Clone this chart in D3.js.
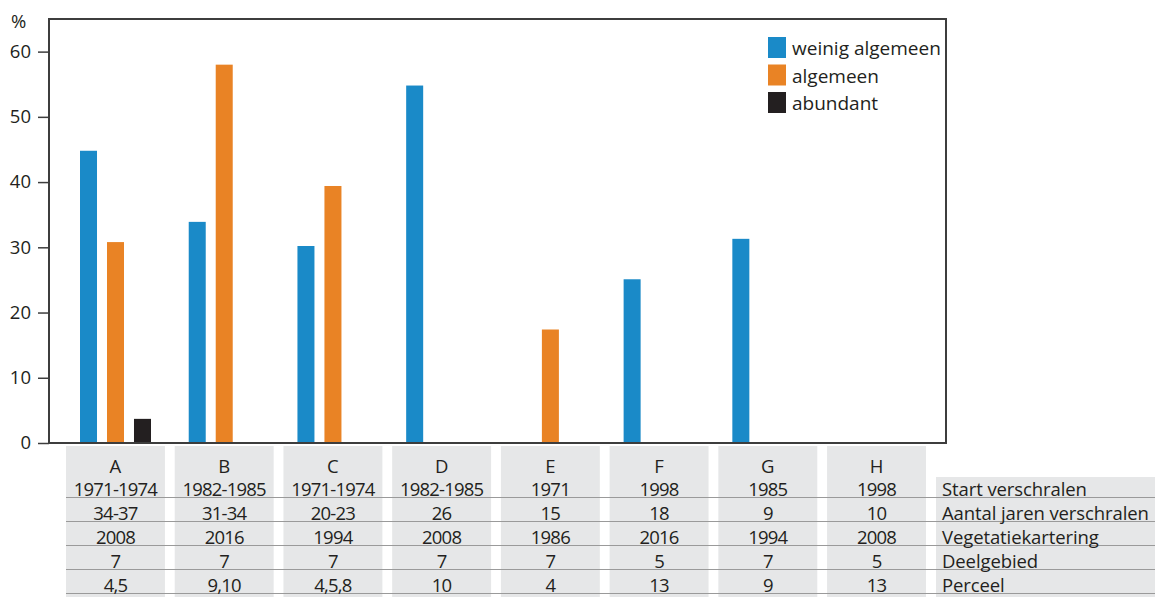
<!DOCTYPE html>
<html>
<head>
<meta charset="utf-8">
<script src="https://cdn.jsdelivr.net/npm/d3@7"></script>
<style>
  body { margin: 0; background: #fff; }
  text { font-family: "Open Sans", "DejaVu Sans", sans-serif; fill: #231f20; }
</style>
</head>
<body>
<div id="chart"></div>
<script>
// data
var groups = ["A", "B", "C", "D", "E", "F", "G", "H"];
var series = ["weinig algemeen", "algemeen", "abundant"];
var weinigAlgemeen = [44.8, 33.9, 30.2, 54.8, null, 25.1, 31.3, null];
var algemeen = [30.8, 58.0, 39.4, null, 17.4, null, null, null];
var abundant = [3.7, null, null, null, null, null, null, null];
var yTicks = [0, 10, 20, 30, 40, 50, 60];

var rowLabels = ["Start verschralen", "Aantal jaren verschralen", "Vegetatiekartering", "Deelgebied", "Perceel"];
var startVerschralen = ["1971-1974", "1982-1985", "1971-1974", "1982-1985", "1971", "1998", "1985", "1998"];
var aantalJaren = ["34-37", "31-34", "20-23", "26", "15", "18", "9", "10"];
var vegetatiekartering = ["2008", "2016", "1994", "2008", "1986", "2016", "1994", "2008"];
var deelgebied = ["7", "7", "7", "7", "7", "5", "7", "5"];
var perceel = ["4,5", "9,10", "4,5,8", "10", "4", "13", "9", "13"];

var colors = {"weinig algemeen": "#1a8ac8", "algemeen": "#e98325", "abundant": "#231f20"};

var svg = d3.select("#chart").append("svg")
    .attr("width", 1155)
    .attr("height", 601);

var plotLeft = 49, plotTop = 19, plotRight = 946, plotBottom = 443;

var y = d3.scaleLinear().domain([0, 65]).range([plotBottom, plotTop]);
var x0 = d3.scaleBand().domain(groups).range([66, 926]).paddingInner(0.09).paddingOuter(0);
var x1 = d3.scaleBand().domain(series).range([14, 85]).paddingInner(0.37).paddingOuter(0);

// table background boxes
svg.selectAll(".box").data(groups).enter().append("rect")
    .attr("class", "box")
    .attr("x", function(d) { return x0(d); })
    .attr("y", 446)
    .attr("width", x0.bandwidth())
    .attr("height", 151)
    .style("fill", "#e6e7e8");

svg.append("rect")
    .attr("x", 936).attr("y", 477)
    .attr("width", 219).attr("height", 120)
    .style("fill", "#e6e7e8");

// bars
var barData = [];
groups.forEach(function(g, i) {
    var vals = [weinigAlgemeen[i], algemeen[i], abundant[i]];
    series.forEach(function(s, j) {
        if (vals[j] != null) barData.push({group: g, serie: s, value: vals[j]});
    });
});

svg.selectAll(".bar").data(barData).enter().append("rect")
    .attr("class", "bar")
    .attr("x", function(d) { return x0(d.group) + x1(d.serie); })
    .attr("y", function(d) { return y(d.value); })
    .attr("width", x1.bandwidth())
    .attr("height", function(d) { return y(0) - y(d.value); })
    .style("fill", function(d) { return colors[d.serie]; });

// frame
svg.append("rect")
    .attr("x", plotLeft).attr("y", plotTop)
    .attr("width", plotRight - plotLeft).attr("height", plotBottom - plotTop)
    .style("fill", "none")
    .style("stroke", "#3d3d3d")
    .style("stroke-width", 2);

// y axis
var yAxis = d3.axisLeft(y).tickValues(yTicks).tickSize(11).tickPadding(7);
var ay = svg.append("g")
    .attr("transform", "translate(" + plotLeft + ",0)")
    .call(yAxis);
ay.select(".domain").remove();
ay.selectAll(".tick line").style("stroke", "#3d3d3d").style("stroke-width", 1.5);
ay.selectAll(".tick text")
    .style("font-size", "18.5px")
    .style("fill", "#231f20")
    .style("font-family", "'Open Sans', sans-serif");

svg.append("text")
    .attr("x", 11).attr("y", 28)
    .style("font-size", "18.5px")
    .text("%");

// legend
var legend = svg.selectAll(".legend").data(series).enter().append("g")
    .attr("class", "legend")
    .attr("transform", function(d, i) { return "translate(768," + (37 + i * 27.5) + ")"; });
legend.append("rect")
    .attr("width", 18).attr("height", 21)
    .style("fill", function(d) { return colors[d]; });
legend.append("text")
    .attr("x", 24).attr("y", 18)
    .style("font-size", "19px")
    .text(function(d) { return d; });

// table
var tableRows = [startVerschralen, aantalJaren, vegetatiekartering, deelgebied, perceel];

svg.selectAll(".grp").data(groups).enter().append("text")
    .attr("class", "grp")
    .attr("x", function(d) { return x0(d) + x0.bandwidth() / 2; })
    .attr("y", 473)
    .attr("text-anchor", "middle")
    .style("font-size", "18.5px")
    .text(function(d) { return d; });

tableRows.forEach(function(row, r) {
    var yy = 496 + r * 24;
    svg.append("line")
        .attr("x1", 66).attr("x2", 1155)
        .attr("y1", yy + 1.5).attr("y2", yy + 1.5)
        .style("stroke", "#9a9a9a")
        .style("stroke-width", 1);
    svg.selectAll(".cell" + r).data(row).enter().append("text")
        .attr("class", "cell" + r)
        .attr("x", function(d, i) { return x0(groups[i]) + x0.bandwidth() / 2; })
        .attr("y", yy)
        .attr("text-anchor", "middle")
        .style("font-size", "18.5px")
        .style("letter-spacing", "-0.8px")
        .text(function(d) { return d; });
    svg.append("text")
        .attr("x", 942).attr("y", yy)
        .style("font-size", "18.5px")
        .style("letter-spacing", "-0.1px")
        .text(rowLabels[r]);
});
</script>
</body>
</html>
